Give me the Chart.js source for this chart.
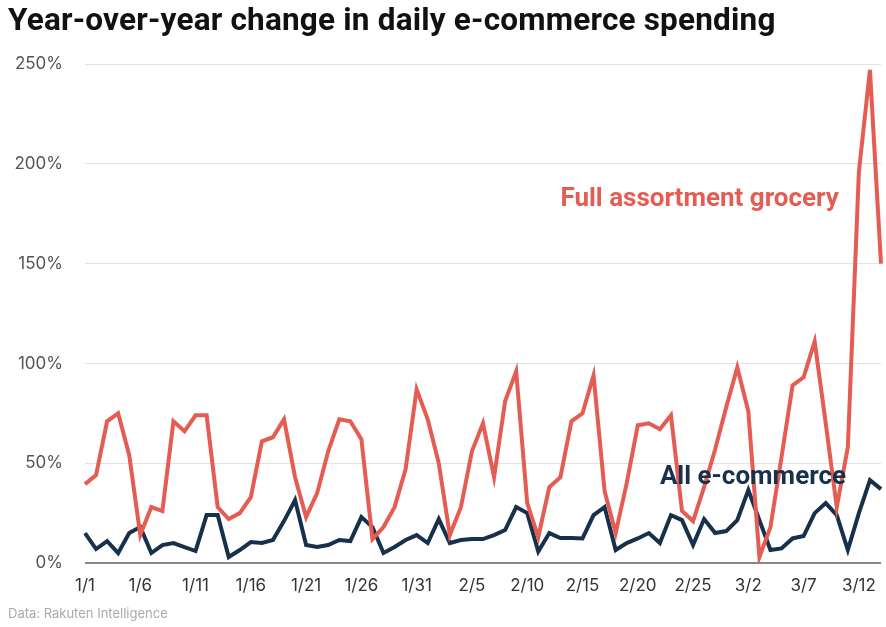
<!DOCTYPE html>
<html>
<head>
<meta charset="utf-8">
<script src="https://cdn.jsdelivr.net/npm/chart.js@4.4.1/dist/chart.umd.min.js"></script>
<style>
  body { margin: 0; background: #fff; }
  #wrap { position: relative; width: 886px; height: 627px; }
  #title { position: absolute; left: 8px; top: 1px; font: 700 31.5px Roboto, sans-serif; color: #111; letter-spacing: 0.2px; }
  #source { position: absolute; left: 8px; top: 605px; font: 13px Inter, sans-serif; color: #aaa; }
  canvas { position: absolute; left: 0; top: 0; }
</style>
</head>
<body>
<div id="wrap">
  <canvas id="mychart" width="886" height="627"></canvas>
  <div id="title">Year-over-year change in daily e-commerce spending</div>
  <div id="source">Data: Rakuten Intelligence</div>
</div>
<script>
// days 1/1 .. 3/14
const days = [
    '1/1','1/2','1/3','1/4','1/5','1/6','1/7','1/8','1/9','1/10',
    '1/11','1/12','1/13','1/14','1/15','1/16','1/17','1/18','1/19','1/20',
    '1/21','1/22','1/23','1/24','1/25','1/26','1/27','1/28','1/29','1/30',
    '1/31','2/1','2/2','2/3','2/4','2/5','2/6','2/7','2/8','2/9',
    '2/10','2/11','2/12','2/13','2/14','2/15','2/16','2/17','2/18','2/19',
    '2/20','2/21','2/22','2/23','2/24','2/25','2/26','2/27','2/28','3/1',
    '3/2','3/3','3/4','3/5','3/6','3/7','3/8','3/9','3/10','3/11',
    '3/12','3/13','3/14'
];

const grocery = [
    39.5, 44, 71, 75, 54, 14, 28, 26, 71, 66,
    74, 74, 28, 22, 25, 33, 61, 63, 72, 43,
    23, 35, 56, 72, 71, 62, 12, 18, 28, 47,
    87, 72, 50, 14, 28, 56, 70, 43, 81, 96,
    30, 13, 38, 43, 71, 75, 94, 36, 15, 40,
    69, 70, 67, 74, 26, 21, 38, 57, 78, 98,
    76, 3, 18, 53, 89, 93, 111, 70, 28, 58,
    196, 247, 150
];

const allEcommerce = [
    15, 7, 11, 5, 15, 18, 5, 9, 10, 8,
    6, 24, 24, 3, 6.5, 10.5, 10, 11.5, 21, 31.5,
    9, 8, 9, 11.5, 11, 23, 18, 5, 8, 11.5,
    14, 10, 22, 10, 11.5, 12, 12, 14, 16.5, 28,
    25, 5.7, 15, 12.5, 12.5, 12.3, 24, 28, 6.5, 10,
    12.3, 15, 10, 24, 21.5, 9, 22, 15, 16, 21.5,
    36.5, 21.5, 6.5, 7.3, 12.3, 13.5, 25, 30, 24, 6.5,
    25, 41.5, 37
];

const yTicks = [0, 50, 100, 150, 200, 250];

const redColor = '#e55c52';
const navyColor = '#17304b';

// series name labels, placed in data coordinates
const seriesLabels = [
    { text: 'Full assortment grocery', day: '2/13', value: 182, color: redColor },
    { text: 'All e-commerce', day: '2/22', value: 43, color: navyColor }
];

const seriesLabelPlugin = {
    id: 'seriesLabels',
    afterDatasetsDraw(chart) {
        const ctx = chart.ctx;
        const xs = chart.scales.x;
        const ys = chart.scales.y;
        ctx.save();
        ctx.font = '700 26px Roboto, sans-serif';
        ctx.textAlign = 'left';
        ctx.textBaseline = 'middle';
        seriesLabels.forEach((l) => {
            ctx.fillStyle = l.color;
            ctx.fillText(l.text, xs.getPixelForValue(days.indexOf(l.day)), ys.getPixelForValue(l.value));
        });
        ctx.restore();
    }
};

new Chart('mychart', {
    type: 'line',
    data: {
        labels: days,
        datasets: [
            {
                label: 'Full assortment grocery',
                data: grocery,
                borderColor: redColor,
                borderWidth: 4,
                pointRadius: 0,
                tension: 0
            },
            {
                label: 'All e-commerce',
                data: allEcommerce,
                borderColor: navyColor,
                borderWidth: 4,
                pointRadius: 0,
                tension: 0
            }
        ]
    },
    options: {
        responsive: false,
        animation: false,
        layout: { padding: { top: 64, right: 3, bottom: 34, left: 0 } },
        plugins: {
            legend: { display: false },
            tooltip: { enabled: false }
        },
        scales: {
            x: {
                offset: false,
                grid: { display: false },
                border: { display: false },
                afterFit: (s) => { s.height = 30; },
                ticks: {
                    autoSkip: false,
                    maxRotation: 0,
                    padding: 5,
                    color: '#333',
                    font: { family: 'Inter', size: 17 },
                    callback: function (val, i) { return i % 5 === 0 ? days[i] : ''; }
                }
            },
            y: {
                min: 0,
                max: 250,
                afterFit: (s) => { s.width = 85; },
                afterBuildTicks: (s) => { s.ticks = yTicks.map((v) => ({ value: v })); },
                border: { display: false },
                grid: {
                    drawTicks: false,
                    color: (c) => c.tick.value === 0 ? '#888' : '#e2e2e2',
                    lineWidth: (c) => c.tick.value === 0 ? 2 : 1
                },
                ticks: {
                    padding: 22,
                    color: '#555',
                    font: { family: 'Inter', size: 17 },
                    callback: (v) => v + '%'
                }
            }
        }
    },
    plugins: [seriesLabelPlugin]
});
</script>
</body>
</html>
